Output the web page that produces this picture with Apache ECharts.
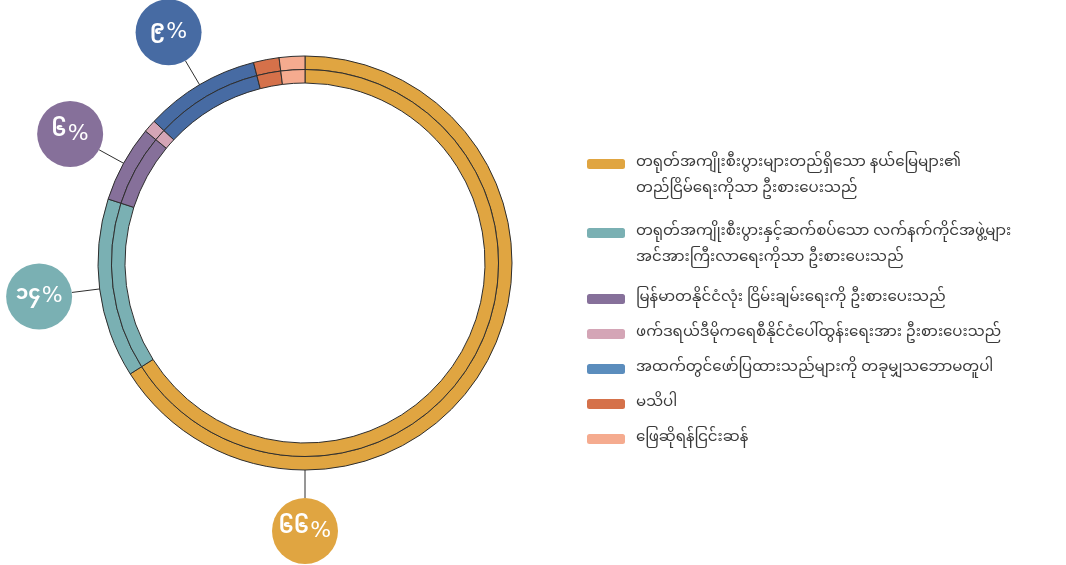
<!DOCTYPE html>
<html>
<head>
<meta charset="utf-8">
<script src="https://cdn.jsdelivr.net/npm/echarts@6/dist/echarts.min.js"></script>
<style>
  html, body { margin: 0; padding: 0; background: #ffffff; }
  #chart { width: 1066px; height: 565px; }
</style>
</head>
<body>
<div id="chart"></div>
<script>
// ---- data ----
const categories = [
  'တရုတ်အကျိုးစီးပွားများတည်ရှိသော နယ်မြေများ၏\nတည်ငြိမ်ရေးကိုသာ ဦးစားပေးသည်',
  'တရုတ်အကျိုးစီးပွားနှင့်ဆက်စပ်သော လက်နက်ကိုင်အဖွဲ့များ\nအင်အားကြီးလာရေးကိုသာ ဦးစားပေးသည်',
  'မြန်မာတနိုင်ငံလုံး ငြိမ်းချမ်းရေးကို ဦးစားပေးသည်',
  'ဖက်ဒရယ်ဒီမိုကရေစီနိုင်ငံပေါ်ထွန်းရေးအား ဦးစားပေးသည်',
  'အထက်တွင်ဖော်ပြထားသည်များကို တခုမျှသဘောမတူပါ',
  'မသိပါ',
  'ဖြေဆိုရန်ငြင်းဆန်'
];
const values = [66, 14, 6, 1, 9, 2, 2];
const colors = ['#E0A541', '#7AB0B3', '#86709A', '#D4A5B6', '#476BA3', '#D5714A', '#F5AB8F'];
const legendColors = ['#E0A541', '#7AB0B3', '#86709A', '#D4A5B6', '#5B8DBD', '#D5714A', '#F5AB8F'];
const labelMin = 5; // show percentage bubbles for slices of at least this share

// ---- helpers ----
const MY_DIGITS = ['၀','၁','၂','၃','၄','၅','၆','၇','၈','၉'];
function toMyanmar(n) {
  return String(n).split('').map(d => /[0-9]/.test(d) ? MY_DIGITS[+d] : d).join('');
}
const FONT = "'Noto Sans Myanmar', 'Padauk', 'Myanmar Text', 'Pyidaungsu', 'DejaVu Sans', sans-serif";
const total = values.reduce((a, b) => a + b, 0);
const CX = 305, CY = 263;
const R_IN = 180, R_MID = 193.5, R_OUT = 207;
const BUBBLE_R = 33, BUBBLE_DIST = 268;

function midAngle(i) {
  let cum = 0;
  for (let k = 0; k < i; k++) cum += values[k];
  return (cum + values[i] / 2) / total * 360;
}

function buildData(withLabels) {
  return categories.map((name, i) => {
    const item = {
      name: name,
      value: values[i],
      itemStyle: { color: colors[i] }
    };
    if (withLabels) {
      const show = values[i] >= labelMin;
      item.label = { show: show, backgroundColor: colors[i] };
      item.labelLine = { show: show };
    }
    return item;
  });
}

const chart = echarts.init(document.getElementById('chart'), null, { renderer: 'canvas' });

const pieCommon = {
  type: 'pie',
  center: [CX, CY],
  startAngle: 90,
  clockwise: true,
  animation: false,
  silent: true,
  avoidLabelOverlap: false,
  itemStyle: { borderColor: '#2e2e2e', borderWidth: 1 },
  emphasis: { disabled: true }
};

// legend text: each line wrapped in a rich token; multi-line entries get a blank
// first line so the colour key lines up with the first line of text
function legendFormatter(name) {
  const lines = name.split('\n');
  const parts = lines.map(s => '{t|' + s + '}');
  if (lines.length > 1) parts.unshift('{t| }');
  return parts.join('\n');
}

const legendBase = {
  orient: 'vertical',
  left: 587,
  padding: 0,
  icon: 'roundRect',
  itemWidth: 38,
  itemHeight: 10,
  itemGap: 9,
  selectedMode: false,
  itemStyle: { borderWidth: 0 },
  formatter: legendFormatter,
  textStyle: {
    fontFamily: FONT, fontSize: 15, color: '#3a3a3a', lineHeight: 26,
    rich: { t: { fontFamily: FONT, fontSize: 15, color: '#3a3a3a', lineHeight: 26, padding: [0, 0, 0, 6] } }
  }
};
function legendData(idxs) {
  return idxs.map(i => ({ name: categories[i], itemStyle: { color: legendColors[i], borderWidth: 0 } }));
}

const BUBBLE = BUBBLE_R * 2;

chart.setOption({
  backgroundColor: '#ffffff',
  legend: [
    Object.assign({}, legendBase, { top: 125, data: legendData([0]) }),
    Object.assign({}, legendBase, { top: 194, data: legendData([1]) }),
    Object.assign({}, legendBase, { top: 286, data: legendData([2, 3, 4, 5, 6]) })
  ],
  series: [
    Object.assign({}, pieCommon, {
      name: 'outer',
      radius: [R_MID, R_OUT],
      label: { show: false },
      labelLine: { show: false },
      data: buildData(false)
    }),
    Object.assign({}, pieCommon, {
      name: 'inner',
      radius: [R_IN, R_MID],
      label: {
        show: true,
        position: 'outside',
        formatter: p => '{d|' + toMyanmar(p.value) + '}{p|%}',
        color: '#ffffff',
        fontFamily: FONT,
        fontSize: 21,
        width: BUBBLE,
        height: BUBBLE,
        lineHeight: BUBBLE,
        borderRadius: BUBBLE_R,
        align: 'center',
        verticalAlign: 'middle',
        padding: 0,
        rich: {
          d: { fontFamily: FONT, fontSize: 20, fontWeight: 'bold', color: '#ffffff', lineHeight: BUBBLE, height: BUBBLE },
          p: { fontFamily: "'DejaVu Sans', sans-serif", fontSize: 22, fontWeight: 'normal', color: '#ffffff', lineHeight: BUBBLE, height: BUBBLE, padding: [0, 0, 0, 1] }
        }
      },
      labelLine: { show: true, lineStyle: { color: '#2e2e2e', width: 1 } },
      labelLayout: function (p) {
        const i = p.dataIndex;
        const mid = midAngle(i);
        // the dominant slice's bubble hangs straight below the ring
        const ang = (i === 0 ? 180 : mid) * Math.PI / 180;
        const sx = CX + Math.sin(ang) * R_MID, sy = CY - Math.cos(ang) * R_MID;
        const ex = CX + Math.sin(ang) * (BUBBLE_DIST - BUBBLE_R), ey = CY - Math.cos(ang) * (BUBBLE_DIST - BUBBLE_R);
        const bx = CX + Math.sin(ang) * BUBBLE_DIST, by = CY - Math.cos(ang) * BUBBLE_DIST;
        return {
          x: bx, y: by,
          align: 'center', verticalAlign: 'middle',
          labelLinePoints: [[sx, sy], [ex, ey], [ex, ey]]
        };
      },
      data: buildData(true)
    })
  ]
});
</script>
</body>
</html>
